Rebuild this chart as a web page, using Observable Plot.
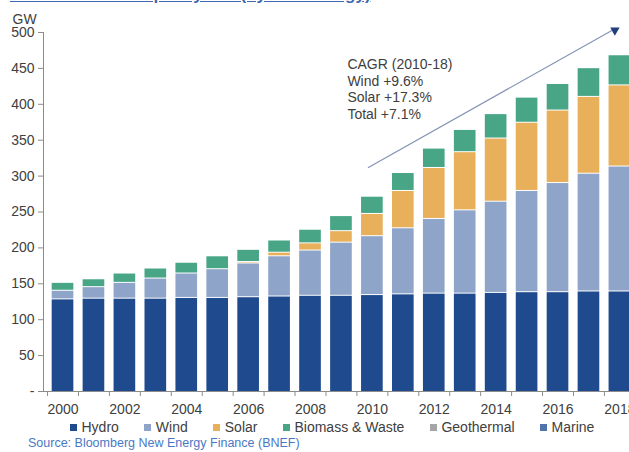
<!DOCTYPE html>
<html>
<head>
<meta charset="utf-8">
<script src="https://cdn.jsdelivr.net/npm/d3@7"></script>
<script src="https://cdn.jsdelivr.net/npm/@observablehq/plot@0.6"></script>
<style>
html, body { margin: 0; padding: 0; background: #fff; overflow: hidden; width: 629px; height: 452px; }
#wrap { position: relative; width: 629px; height: 452px; font-family: "Liberation Sans", Arial, sans-serif; }
#title { position: absolute; left: 10px; top: -15px; font-weight: bold; font-size: 17px; color: #4169b0; text-decoration: underline; white-space: nowrap; }
#chart { position: absolute; left: 0; top: 0; }
#legend { position: absolute; left: 70px; top: 419px; display: flex; align-items: center; font-size: 14px; color: #404040; white-space: nowrap; }
#legend .item { display: flex; align-items: center; margin-right: 25.5px; }
#legend .sw { width: 7px; height: 7px; margin-right: 4.5px; }
#source { position: absolute; left: 28px; top: 436px; font-size: 12.5px; color: #4a79c4; white-space: nowrap; }
</style>
</head>
<body>
<div id="wrap">
  <div id="chart"></div>
  <div id="title"></div>
  <div id="legend"></div>
  <div id="source"></div>
</div>
<script>
// ---- data ----
const titleText = "US Renewable Capacity Mix (by Technology)";
const sourceText = "Source: Bloomberg New Energy Finance (BNEF)";
const years = [2000, 2001, 2002, 2003, 2004, 2005, 2006, 2007, 2008, 2009, 2010, 2011, 2012, 2013, 2014, 2015, 2016, 2017, 2018];
const yearLabels = [2000, 2002, 2004, 2006, 2008, 2010, 2012, 2014, 2016, 2018];
const hydro   = [129, 130, 130, 130, 131, 131, 132, 133, 134, 134, 135, 136, 137, 137, 138, 139, 139, 140, 140];
const wind    = [12, 16, 22, 28, 34, 40, 47, 56, 63, 74, 82, 92, 104, 116, 127, 141, 152, 164, 174];
const solar   = [0, 0, 0, 0, 0, 0, 2, 5, 10, 16, 31, 52, 71, 81, 88, 95, 101, 107, 113];
const biomass = [11, 11, 13, 14, 15, 18, 17, 17, 19, 21, 24, 25, 27, 31, 34, 35, 37, 40, 42];
const series = ["Hydro", "Wind", "Solar", "Biomass & Waste", "Geothermal", "Marine"];
const colors = ["#1f4b8e", "#8ea4c8", "#e8b05a", "#48a687", "#a6a6a6", "#4f74a9"];
const yTicks = [0, 50, 100, 150, 200, 250, 300, 350, 400, 450, 500];
const cagrLines = ["CAGR (2010-18)", "Wind +9.6%", "Solar +17.3%", "Total +7.1%"];
const trendArrow = [{x1: 2010, y1: 312, x2: 2018, y2: 506}];
const cagrNote = [{year: 2010, value: 422}];

// ---- build table ----
const valuesBySeries = [hydro, wind, solar, biomass];
const table = [];
years.forEach((yr, i) => {
  valuesBySeries.forEach((arr, s) => {
    if (arr[i] > 0) table.push({year: yr, series: series[s], value: arr[i]});
  });
});

const xRange = [42.4, 639.5];
const step = (xRange[1] - xRange[0]) / (years.length - 0.3 + 0.6);
const axisColor = "#8c8c8c";
const textColor = "#404040";

const chart = Plot.plot({
  width: 629,
  height: 418,
  marginTop: 32,
  marginBottom: 27,
  marginLeft: 43,
  marginRight: 0,
  style: {fontFamily: "Liberation Sans, Arial, sans-serif", fontSize: "14px", color: textColor, background: "transparent"},
  x: {type: "band", domain: years, range: xRange, paddingInner: 0.3, paddingOuter: 0.3, round: false, label: null, axis: null},
  y: {domain: [0, 500], label: null, axis: null},
  color: {domain: series, range: colors},
  marks: [
    Plot.barY(table, {x: "year", y: "value", fill: "series", insetTop: 1}),
    Plot.ruleY([0], {stroke: axisColor}),
    Plot.frame({anchor: "left", stroke: axisColor}),
    Plot.axisY({ticks: yTicks, tickSize: 5, tickPadding: 4, tickFormat: d => d === 0 ? "-" : String(d), stroke: axisColor, fill: textColor, fontSize: 14, label: null}),
    Plot.axisX({ticks: years, tickSize: 5, tickFormat: () => "", dx: -step / 2, stroke: axisColor, label: null}),
    Plot.axisX({ticks: yearLabels, tickSize: 0, tickPadding: 13, tickFormat: d => String(d), fill: textColor, fontSize: 14, label: null}),
    Plot.text(["GW"], {frameAnchor: "top-left", dx: -31, dy: -18, textAnchor: "start", fill: textColor, fontSize: 14}),
    Plot.arrow(trendArrow, {x1: "x1", y1: "y1", x2: "x2", y2: "y2", dx: -4, stroke: "#8593b4", strokeWidth: 1.2, headLength: 0}),
    Plot.dot(trendArrow, {x: "x2", y: "y2", dx: -5, dy: 2, symbol: "triangle", r: 3.5, rotate: 61, fill: "#213f7c", stroke: null}),
    Plot.text(cagrNote, {x: "year", y: "value", text: () => cagrLines.join("\n"), dx: -25, textAnchor: "start", lineHeight: 1.19, fill: textColor, fontSize: 14})
  ]
});
document.getElementById("chart").appendChild(chart);

document.getElementById("title").textContent = titleText;
document.getElementById("source").textContent = sourceText;
const legend = document.getElementById("legend");
series.forEach((s, i) => {
  const item = document.createElement("span");
  item.className = "item";
  const sw = document.createElement("span");
  sw.className = "sw";
  sw.style.background = colors[i];
  const t = document.createElement("span");
  t.textContent = s;
  item.appendChild(sw);
  item.appendChild(t);
  legend.appendChild(item);
});
</script>
</body>
</html>
